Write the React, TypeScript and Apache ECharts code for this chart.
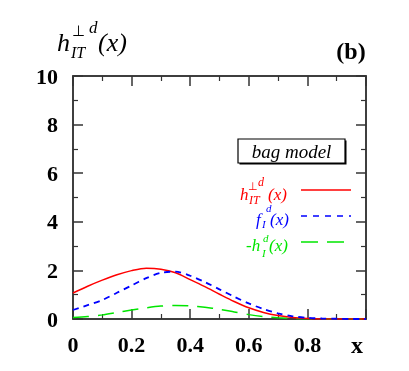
import React, { useEffect, useRef } from "react";
import * as echarts from "echarts";

const xs = [0, 0.05, 0.1, 0.15, 0.2, 0.25, 0.3, 0.35, 0.4, 0.45, 0.5, 0.55, 0.6, 0.65, 0.7, 0.75, 0.8, 0.85, 0.9, 0.95, 1.0];
const h1TperpD = [1.07, 1.35, 1.6, 1.82, 1.99, 2.09, 2.05, 1.9, 1.62, 1.33, 1.02, 0.72, 0.46, 0.27, 0.14, 0.06, 0.02, 0.0, 0.0, 0.0, 0.0];
const f1D = [0.37, 0.57, 0.78, 1.08, 1.38, 1.68, 1.9, 1.95, 1.78, 1.52, 1.22, 0.92, 0.64, 0.41, 0.23, 0.11, 0.05, 0.02, 0.01, 0.0, 0.0];
const minusH1D = [0.06, 0.1, 0.17, 0.27, 0.37, 0.46, 0.53, 0.56, 0.54, 0.48, 0.4, 0.29, 0.18, 0.1, 0.05, 0.02, 0.01, 0.0, 0.0, 0.0, 0.0];
const yTicks = [0, 2, 4, 6, 8, 10];
const xTicks = [0, 0.2, 0.4, 0.6, 0.8];

const SERIF = "'Liberation Serif', 'Times New Roman', serif";
const RED = "#ff0000";
const BLUE = "#0000ff";
const GREEN = "#00e600";
const FRAME = "#333333";

function txt(text: string, x: number, y: number, size: number, color: string, opts: any = {}) {
  return {
    type: "text",
    x,
    y,
    silent: true,
    style: {
      text,
      fontFamily: SERIF,
      fontSize: size,
      fontStyle: opts.italic === false ? "normal" : "italic",
      fontWeight: opts.bold ? "bold" : "normal",
      fill: color,
      align: opts.align || "left",
      verticalAlign: "middle",
    },
  };
}

function frameAxis(kind: "x" | "y", position: string, secondary: boolean, label: any) {
  const axisLine: any = { show: true, lineStyle: { color: FRAME, width: 1.5 } };
  if (secondary) axisLine.onZero = false;
  return {
    type: "value",
    min: 0,
    max: kind === "x" ? 1 : 10,
    interval: kind === "x" ? 0.2 : 2,
    position,
    axisLine,
    axisTick: { show: true, inside: true, length: 10, lineStyle: { color: FRAME, width: 1.5 } },
    minorTick: { show: true, splitNumber: 2, length: 5, lineStyle: { color: FRAME, width: 1.2 } },
    splitLine: { show: false },
    axisLabel: label,
  };
}

export default function App() {
  const ref = useRef<HTMLDivElement>(null);
  useEffect(() => {
    if (!ref.current) return;
    const chart = echarts.init(ref.current, undefined, { renderer: "svg" });
    const pairs = (arr: number[]) => xs.map((x, i) => [x, arr[i]]);
    const labelStyle = () => ({ fontFamily: SERIF, fontWeight: "bold", fontSize: 22, color: "#000" });
    const hiddenLabel = () => ({ show: true, color: "rgba(0,0,0,0)", fontSize: 10, formatter: () => "" });
    chart.setOption({
      animation: false,
      grid: {
        left: 73,
        right: 43,
        top: 76,
        bottom: 52,
        show: true,
        borderColor: FRAME,
        borderWidth: 1.5,
        backgroundColor: "rgba(0,0,0,0)",
      },
      xAxis: [
        frameAxis("x", "bottom", false, {
          ...labelStyle(),
          margin: 14,
          formatter: (v: number) => (xTicks.some((t) => Math.abs(t - v) < 1e-9) ? String(+v.toFixed(1)) : ""),
        }),
        frameAxis("x", "top", true, hiddenLabel()),
      ],
      yAxis: [
        frameAxis("y", "left", false, {
          ...labelStyle(),
          margin: 15,
          formatter: (v: number) => (yTicks.includes(v) ? String(v) : ""),
        }),
        frameAxis("y", "right", true, hiddenLabel()),
      ],
      series: [
        {
          type: "line",
          data: pairs(h1TperpD),
          smooth: 0.3,
          showSymbol: false,
          lineStyle: { color: RED, width: 1.5, type: "solid" },
          z: 3,
        },
        {
          type: "line",
          data: pairs(f1D),
          smooth: 0.3,
          showSymbol: false,
          lineStyle: { color: BLUE, width: 1.8, type: [6, 5] },
          z: 4,
        },
        {
          type: "line",
          data: pairs(minusH1D),
          smooth: 0.3,
          showSymbol: false,
          lineStyle: { color: GREEN, width: 1.5, type: [16, 9] },
          z: 2,
        },
      ],
      graphic: [
        txt("h", 57, 42, 26, "#000"),
        txt("⊥", 72, 31, 15, "#000", { italic: false }),
        txt("d", 89, 27, 17, "#000"),
        txt("IT", 71, 52, 16, "#000"),
        txt("(x)", 98, 42, 26, "#000"),
        txt("(b)", 351, 51, 24, "#000", { italic: false, bold: true, align: "center" }),
        txt("x", 357, 345, 24, "#000", { italic: false, bold: true, align: "center" }),
        { type: "rect", shape: { x: 239.5, y: 140.5, width: 107, height: 24 }, style: { fill: "#000" }, silent: true },
        { type: "rect", shape: { x: 238, y: 139, width: 107, height: 24 }, style: { fill: "#fff", stroke: "#000", lineWidth: 1.2 }, silent: true },
        txt("bag model", 291.5, 151, 19, "#000", { align: "center" }),
        txt("h", 240, 194, 17, RED),
        txt("⊥", 248, 186, 11, RED, { italic: false }),
        txt("d", 258, 182, 12, RED),
        txt("IT", 249, 200, 12, RED),
        txt("(x)", 268, 194, 17, RED),
        { type: "line", shape: { x1: 301, y1: 190, x2: 351, y2: 190 }, style: { stroke: RED, lineWidth: 1.5 }, silent: true },
        txt("f", 256, 219, 17, BLUE),
        txt("d", 266, 208, 11, BLUE),
        txt("I", 262, 224, 11, BLUE),
        txt("(x)", 270, 219, 17, BLUE),
        { type: "line", shape: { x1: 301, y1: 216, x2: 351, y2: 216 }, style: { stroke: BLUE, lineWidth: 1.5, lineDash: [6, 6] }, silent: true },
        txt("-h", 246, 245, 17, GREEN),
        txt("d", 263, 238, 11, GREEN),
        txt("I", 262, 253, 11, GREEN),
        txt("(x)", 269, 245, 17, GREEN),
        { type: "line", shape: { x1: 301, y1: 242, x2: 344, y2: 242 }, style: { stroke: GREEN, lineWidth: 1.5, lineDash: [17, 9] }, silent: true },
      ],
    });
    return () => chart.dispose();
  }, []);
  return <div ref={ref} style={{ position: "fixed", left: 0, top: 0, width: 409, height: 371 }} />;
}
